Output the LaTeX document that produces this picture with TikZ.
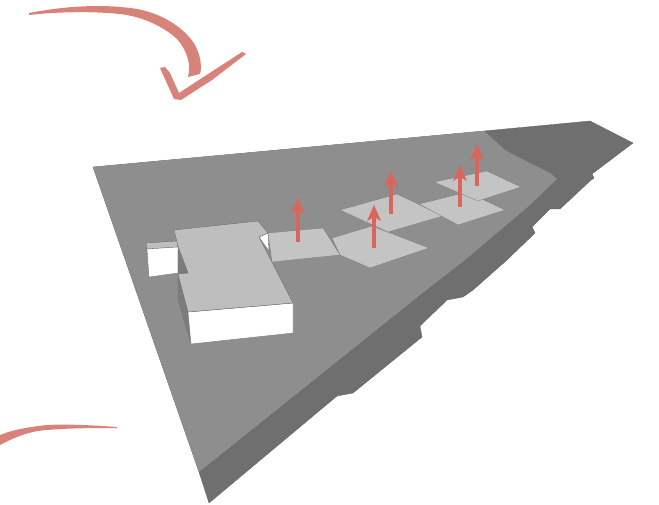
\documentclass[tikz,border=0pt]{standalone}
\definecolor{basedark}{HTML}{6F6F6F}
\definecolor{basemid}{HTML}{8E8E8E}
\definecolor{plate}{HTML}{C4C4C4}
\definecolor{roof}{HTML}{BEBEBE}
\definecolor{sidegrey}{HTML}{7C7C7C}
\definecolor{redarrow}{HTML}{D9655D}
\definecolor{brush}{HTML}{D8837A}
\tikzset{
  basefill/.style={fill=basedark,draw=basedark!85!black,line width=.3pt},
  midfill/.style={fill=basemid},
  platefill/.style={fill=plate,draw=basemid!80!black,line width=.25pt},
  roofface/.style={fill=roof,draw=black!60,line width=.35pt,line join=round},
  whiteface/.style={fill=white,draw=black!55,line width=.35pt},
  sideface/.style={fill=sidegrey,draw=black!55,line width=.3pt},
  uparrow/.style={draw=redarrow,line width=3.6pt},
  headfill/.style={fill=redarrow},
  brushfill/.style={fill=brush}
}
\newcommand{\upArrow}[3]{%
  \draw[uparrow] (#1,#2) -- (#1,#3+8);
  \fill[headfill] (#1,#3) -- (#1+7,#3+16) -- (#1,#3+12) -- (#1-7,#3+16) -- cycle;}
\begin{document}
\begin{tikzpicture}[x=1pt,y=-1pt]
\useasboundingbox (0,0) rectangle (659,505);
% base slab
\path[basefill] (93,167) -- (484,131) -- (590,121) -- (633,143) -- (592,174) -- (594,178) -- (590,181)
  -- (560,209) -- (550,209) -- (532,227) -- (535,233) -- (507,260) -- (473,290) -- (463,297) -- (447,300)
  -- (420,326) -- (422,337) -- (353,393) -- (337,396) -- (209,503) -- (199,472) -- cycle;
% top surface
\path[midfill] (93,167) -- (484,131) -- (505,150) -- (520,158) -- (550,173) -- (557,179) -- (530,205)
  -- (465,260) -- (425,291) -- (199,472) -- cycle;
% plates
\path[platefill] (268,233) -- (323,228) -- (340,255) -- (272,262) -- cycle;
\path[platefill] (332,238) -- (372,226) -- (429,248) -- (370,268) -- (340,255) -- cycle;
\path[platefill] (340,210) -- (397,194) -- (443,216) -- (388,232) -- cycle;
\path[platefill] (419,204) -- (467,192) -- (505,210) -- (458,225) -- cycle;
\path[platefill] (434,182) -- (487,171) -- (521,187) -- (478,201) -- cycle;
% small block
\path[roofface] (146,243) -- (177,241) -- (178,247) -- (147,249) -- cycle;
\path[whiteface] (147,249) -- (178,247) -- (178,273) -- (149,277) -- cycle;
% small white notch
\path[whiteface] (259,237) -- (268,233) -- (269,251) -- cycle;
% main block
\path[sideface] (178,276) -- (188,312) -- (191,344) -- (178,300) -- cycle;
\path[sideface] (178,250) -- (188,273) -- (178,273) -- cycle;
\path[whiteface] (188,312) -- (293,303) -- (293,333) -- (191,344) -- cycle;
\path[roofface] (174,230) -- (258,221) -- (268,233) -- (259,237) -- (293,303) -- (188,312) -- (178,274)
  -- (188,273) -- (178,246) -- cycle;
% arrows
\upArrow{298}{242}{198}
\upArrow{374}{248}{205}
\upArrow{391}{214}{171}
\upArrow{460}{207}{165}
\upArrow{477}{186}{144}
% brush strokes
\path[brushfill] (29,13) .. controls (60,7) and (100,3) .. (137,9) .. controls (165,14) and (186,30) .. (195,45)
  .. controls (201,56) and (202,68) .. (200,74) -- (188,77) .. controls (191,65) and (188,52) .. (177,39)
  .. controls (165,28) and (145,17) .. (120,14) .. controls (90,11) and (55,12) .. (29,15) -- cycle;
\path[brushfill] (160,68) -- (165,67) -- (170,73) -- (179,93) -- (205,76) -- (242,52) -- (246,54) -- (212,80) -- (181,100) -- (174,99) -- cycle;
\path[brushfill] (117,427) .. controls (90,425) and (65,424) .. (47,425) .. controls (28,427) and (12,430) .. (0,435)
  -- (0,445) .. controls (15,437) and (30,431) .. (47,430) .. controls (70,428) and (95,428) .. (117,428) -- cycle;
\end{tikzpicture}
\end{document}
